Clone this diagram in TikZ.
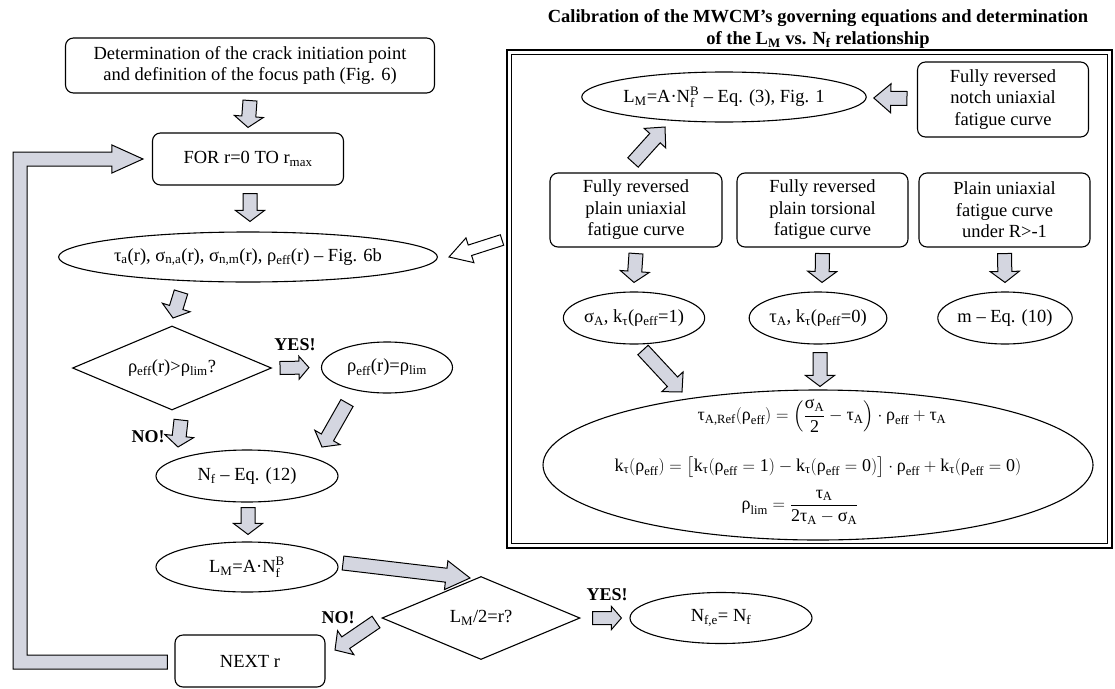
\documentclass[tikz,border=0pt]{standalone}
\usepackage{amsmath}
\usepackage{fontspec}
\setmainfont{Liberation Serif}
\usetikzlibrary{shapes.geometric,calc}
\definecolor{agrey}{RGB}{212,214,224}
\newcommand\mt[1]{\text{#1}}
\newcommand\NfB{$\mt{N}_{\mt{f}}^{\mt{B}}$}
\def\bsw{7pt}\def\bhw{14.5pt}
% block arrow: [head length]{style}{from}{to}
\newcommand\barrow[4][12]{%
 \coordinate (bah) at ($(#4)!#1pt!(#3)$);
 \draw[#2] ($(#3)!\bsw!90:(#4)$) -- ($(bah)!\bsw!90:(#4)$) -- ($(bah)!\bhw!90:(#4)$) -- (#4) -- ($(bah)!\bhw!-90:(#4)$) -- ($(bah)!\bsw!-90:(#4)$) -- ($(#3)!\bsw!-90:(#4)$) -- cycle;}
\begin{document}
\begin{tikzpicture}[x=1pt,y=-1pt,line width=1.1pt,
  font=\fontsize{18.5}{21.5}\selectfont,
  rbox/.style={draw,rounded corners=8pt,align=center,inner sep=0pt},
  ell/.style={draw,ellipse,inner sep=0pt,align=center},
  dia/.style={draw,diamond,inner sep=0pt,aspect=2.4},
  lbl/.style={font=\fontsize{18}{20}\selectfont\bfseries},
  arr/.style={draw=black,fill=agrey,line width=1pt,line join=miter},
  harr/.style={draw=black,fill=white,line width=1pt,line join=miter},
  eqn/.style={font=\fontsize{18}{21}\selectfont,inner sep=0pt}]
\useasboundingbox (0,0) rectangle (1115,688);

% ---------- left flow ----------
\node[rbox,minimum width=369,minimum height=55] (top) at (250,65.5)
  {Determination of the crack initiation point\\and definition of the focus path (Fig. 6)};
\node[rbox,minimum width=191,minimum height=52] (for) at (248,159)
  {FOR r=0 TO r\textsubscript{max}};
\node[ell,minimum width=330,minimum height=50] (tau) at (248,257)
  {τ\textsubscript{a}(r), σ\textsubscript{n,a}(r), σ\textsubscript{n,m}(r), ρ\textsubscript{eff}(r) – Fig. 6b};
\node[dia,minimum width=199,minimum height=84] (dia1) at (172,368)
  {ρ\textsubscript{eff}(r)>ρ\textsubscript{lim}?};
\node[ell,minimum width=131,minimum height=51] (rho) at (387,367.5)
  {ρ\textsubscript{eff}(r)=ρ\textsubscript{lim}};
\node[ell,minimum width=182,minimum height=52] (nf) at (247,476)
  {N\textsubscript{f} – Eq. (12)};
\node[ell,minimum width=182,minimum height=50] (lm) at (247,567)
  {L\textsubscript{M}=A·\NfB};
\node[dia,minimum width=198,minimum height=83] (dia2) at (481,618)
  {L\textsubscript{M}/2=r?};
\node[rbox,minimum width=150,minimum height=52] (next) at (250,661) {NEXT r};
\node[ell,minimum width=182,minimum height=51] (nfe) at (721,618)
  {N\textsubscript{f,e}= N\textsubscript{f}};

\node[lbl] (yes1) at (295,345) {YES!};
\node[lbl] (no1) at (148,437) {NO!};
\node[lbl] (no2) at (338,618) {NO!};
\node[lbl] (yes2) at (607,595) {YES!};

% arrows of the left flow
\def\bsw{7pt}\def\bhw{14.5pt}
\coordinate (s1) at ($(top.south)+(0,7)$);   \coordinate (t1) at ($(for.north)+(0,-5)$);
\barrow[11]{arr}{s1}{t1}
\coordinate (s2) at ($(for.south)+(2,8)$);   \coordinate (t2) at ($(tau.north)+(2,-10)$);
\barrow[11]{arr}{s2}{t2}
\coordinate (s3) at (181,292); \coordinate (t3) at (173,318);
\barrow[11]{arr}{s3}{t3}
\coordinate (s6) at (181,420); \coordinate (t6) at (178,447);
\barrow[11]{arr}{s6}{t6}
\coordinate (s5) at (347,403); \coordinate (t5) at (322,447);
\barrow[11]{arr}{s5}{t5}
\coordinate (s7) at ($(nf.south)+(1,5)$); \coordinate (t7) at ($(lm.north)+(1,-7)$);
\barrow[11]{arr}{s7}{t7}
\coordinate (s8) at (343,563); \coordinate (t8) at (470,578);
\barrow[24]{arr}{s8}{t8}
\coordinate (s9) at (376,622); \coordinate (t9) at (335,650);
\barrow[13]{arr}{s9}{t9}
\def\bsw{6.5pt}\def\bhw{11.5pt}
\coordinate (s4) at ($(dia1.east)+(8,0)$); \coordinate (t4) at ($(rho.west)+(-12,0)$);
\barrow[10]{arr}{s4}{t4}
\coordinate (s10) at ($(dia2.east)+(12,0)$); \coordinate (t10) at ($(nfe.west)+(-8,0)$);
\barrow[10]{arr}{s10}{t10}

% loop arrow NEXT r -> FOR
\coordinate (lpA) at ($(next.west)+(-7,1)$);
\coordinate (lpB) at ($(for.west)+(-9,0)$);
\coordinate (lpL) at (20,0);
\draw[arr] ($(lpA)+(0,-7)$) -- ($(lpA-|lpL)+(7,-7)$) -- ($(lpB-|lpL)+(7,7)$)
  -- ($(lpB)+(-31,7)$) -- ($(lpB)+(-31,14)$) -- (lpB) -- ($(lpB)+(-31,-14)$)
  -- ($(lpB)+(-31,-7)$) -- ($(lpB-|lpL)+(-7,-7)$) -- ($(lpA-|lpL)+(-7,7)$)
  -- ($(lpA)+(0,7)$) -- cycle;

% ---------- right panel ----------
\node[font=\fontsize{18.5}{22}\selectfont\bfseries,align=center] (title) at (818,29)
  {Calibration of the MWCM’s governing equations and determination\\of the L\textsubscript{M} vs. N\textsubscript{f} relationship};
\draw[line width=1.2pt] (507,50) rectangle (1112,548);
\draw[line width=1.2pt] (511.5,54.5) rectangle (1107.5,543.5);

\node[ell,minimum width=258,minimum height=50] (plm) at (724,97)
  {L\textsubscript{M}=A·\NfB{} – Eq. (3), Fig. 1};
\node[rbox,minimum width=171,minimum height=75] (notch) at (1003,99.5)
  {Fully reversed\\notch uniaxial\\fatigue curve};
\node[rbox,minimum width=172,minimum height=74] (b1) at (636,210)
  {Fully reversed\\plain uniaxial\\fatigue curve};
\node[rbox,minimum width=171,minimum height=74] (b2) at (822.5,210)
  {Fully reversed\\plain torsional\\fatigue curve};
\node[rbox,minimum width=171,minimum height=74] (b3) at (1004.5,210)
  {Plain uniaxial\\fatigue curve\\under R>-1};
\node[ell,minimum width=118,minimum height=52] (e1) at (634,318)
  {σ\textsubscript{A}, k\textsubscript{τ}(ρ\textsubscript{eff}=1)};
\node[ell,minimum width=118,minimum height=52] (e2) at (818,318)
  {τ\textsubscript{A}, k\textsubscript{τ}(ρ\textsubscript{eff}=0)};
\node[ell,minimum width=128,minimum height=52] (e3) at (1005,318)
  {m – Eq. (10)};
\node[ell,minimum width=550,minimum height=150] (big) at (818,465) {};
\node[eqn] (eq1) at (822,416)
  {$\mt{τ}_{\mt{A,Ref}}(\mt{ρ}_{\mt{eff}})=\left(\dfrac{\mt{σ}_{\mt{A}}}{\mt{2}}-\mt{τ}_{\mt{A}}\right)\cdot\mt{ρ}_{\mt{eff}}+\mt{τ}_{\mt{A}}$};
\node[eqn] (eq2) at (818,467)
  {$\mt{k}_{\mt{τ}}(\mt{ρ}_{\mt{eff}})=\bigl[\mt{k}_{\mt{τ}}(\mt{ρ}_{\mt{eff}}=\mt{1})-\mt{k}_{\mt{τ}}(\mt{ρ}_{\mt{eff}}=\mt{0})\bigr]\cdot\mt{ρ}_{\mt{eff}}+\mt{k}_{\mt{τ}}(\mt{ρ}_{\mt{eff}}=\mt{0})$};
\node[eqn] (eq3) at (800,507)
  {$\mt{ρ}_{\mt{lim}}=\dfrac{\mt{τ}_{\mt{A}}}{\mt{2τ}_{\mt{A}}-\mt{σ}_{\mt{A}}}$};

% panel arrows
\def\bsw{7pt}\def\bhw{14.5pt}
\coordinate (p1s) at ($(b1.south)+(0,6)$); \coordinate (p1t) at ($(e1.north)+(0,-9)$);
\barrow[11]{arr}{p1s}{p1t}
\coordinate (p2s) at ($(b2.south)+(0,6)$); \coordinate (p2t) at ($(e2.north)+(4,-9)$);
\barrow[11]{arr}{p2s}{p2t}
\coordinate (p3s) at ($(b3.south)+(0,6)$); \coordinate (p3t) at ($(e3.north)+(0,-9)$);
\barrow[11]{arr}{p3s}{p3t}
\coordinate (p4s) at ($(b1.north)+(-3,-10)$); \coordinate (p4t) at (665,127);
\barrow[15]{arr}{p4s}{p4t}
\coordinate (p5s) at ($(notch.west)+(-10,-1)$); \coordinate (p5t) at ($(plm.east)+(7,1)$);
\barrow[17]{arr}{p5s}{p5t}
\coordinate (p6s) at (643,350); \coordinate (p6t) at (682,392);
\barrow[14]{arr}{p6s}{p6t}
\coordinate (p7s) at ($(e2.south)+(2,8)$); \coordinate (p7t) at ($(big.north)+(2,-3)$);
\barrow[11]{arr}{p7s}{p7t}

% hollow arrow from the panel to the stress ellipse
\def\bsw{5.5pt}\def\bhw{13pt}
\coordinate (hs) at (502,240); \coordinate (ht) at ($(tau.east)+(11,0)$);
\barrow[22]{harr}{hs}{ht}
\end{tikzpicture}
\end{document}
